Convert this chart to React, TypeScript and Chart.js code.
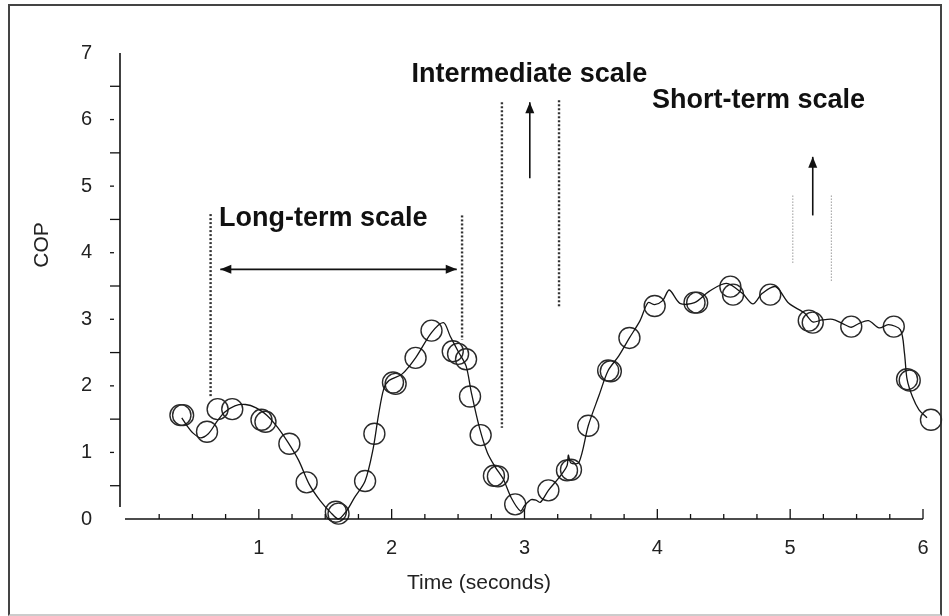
import React, { useEffect, useRef } from "react";
import { Chart, registerables } from "chart.js";

Chart.register(...registerables);

// ---- data ----
const circleX = [0.41, 0.43, 0.61, 0.69, 0.80, 1.02, 1.05, 1.23, 1.36, 1.58, 1.60, 1.80, 1.87, 2.01, 2.03, 2.18, 2.30, 2.46, 2.50, 2.56, 2.59, 2.67, 2.77, 2.80, 2.93, 3.18, 3.32, 3.35, 3.48, 3.63, 3.65, 3.79, 3.98, 4.28, 4.30, 4.55, 4.57, 4.85, 5.14, 5.17, 5.46, 5.78, 5.88, 5.90, 6.06];
const circleY = [1.56, 1.56, 1.31, 1.65, 1.65, 1.49, 1.46, 1.13, 0.55, 0.11, 0.08, 0.57, 1.28, 2.05, 2.03, 2.42, 2.83, 2.52, 2.48, 2.40, 1.84, 1.26, 0.65, 0.64, 0.22, 0.43, 0.73, 0.74, 1.40, 2.23, 2.22, 2.72, 3.20, 3.25, 3.25, 3.49, 3.37, 3.37, 2.98, 2.95, 2.89, 2.89, 2.10, 2.08, 1.49];

const lineX = [0.42, 0.46, 0.50, 0.56, 0.62, 0.68, 0.74, 0.82, 0.90, 0.98, 1.06, 1.14, 1.22, 1.30, 1.38, 1.46, 1.54, 1.60, 1.66, 1.72, 1.80, 1.86, 1.90, 1.94, 1.98, 2.08, 2.18, 2.30, 2.39, 2.44, 2.50, 2.56, 2.60, 2.66, 2.72, 2.78, 2.84, 2.90, 2.97, 3.00, 3.05, 3.09, 3.12, 3.18, 3.26, 3.32, 3.33, 3.35, 3.41, 3.48, 3.56, 3.63, 3.71, 3.79, 3.87, 3.93, 3.98, 4.04, 4.09, 4.17, 4.28, 4.39, 4.52, 4.64, 4.72, 4.79, 4.89, 4.99, 5.11, 5.17, 5.24, 5.32, 5.39, 5.46, 5.52, 5.59, 5.67, 5.74, 5.83, 5.86, 5.88, 5.92, 5.97, 6.03, 6.08];
const lineY = [1.52, 1.40, 1.30, 1.22, 1.28, 1.45, 1.60, 1.70, 1.72, 1.67, 1.56, 1.38, 1.15, 0.88, 0.52, 0.28, 0.10, 0.00, 0.12, 0.32, 0.57, 1.05, 1.55, 1.95, 2.08, 2.18, 2.42, 2.80, 2.95, 2.75, 2.52, 2.30, 1.90, 1.38, 1.00, 0.78, 0.60, 0.32, 0.12, 0.20, 0.29, 0.28, 0.25, 0.43, 0.62, 0.80, 0.96, 0.84, 0.85, 1.40, 1.85, 2.23, 2.45, 2.72, 2.98, 3.25, 3.22, 3.28, 3.44, 3.24, 3.25, 3.42, 3.54, 3.39, 3.23, 3.39, 3.49, 3.24, 3.09, 2.96, 2.99, 3.00, 2.94, 2.88, 2.94, 2.98, 2.87, 2.92, 2.84, 2.50, 2.10, 1.84, 1.64, 1.52, 1.40];

// scale-window guides (dotted verticals)
const guideX = [0.637, 2.53, 2.83, 3.26, 5.02, 5.31];
const guideTop = [4.58, 4.56, 6.26, 6.29, 4.86, 4.86];
const guideBottom = [1.82, 2.69, 1.37, 3.18, 3.84, 3.56];
const guideFaint = [false, false, false, false, true, true];

// labels of the three scales
const scaleLabels = ["Long-term scale", "Intermediate scale", "Short-term scale"];
const scaleLabelX = [0.70, 2.15, 3.96];
const scaleLabelY = [4.52, 6.68, 6.28];

// arrows: [x0, y0, x1, y1, doubleHeaded]
const arrowX0 = [0.71, 3.04, 5.17];
const arrowY0 = [3.75, 5.12, 4.56];
const arrowX1 = [2.49, 3.04, 5.17];
const arrowY1 = [3.75, 6.26, 5.44];
const arrowDouble = [true, false, false];

const xTitle = "Time (seconds)";
const yTitle = "COP";

const FONT = '"Liberation Sans", Arial, Helvetica, sans-serif';

function drawHead(ctx: CanvasRenderingContext2D, x0: number, y0: number, x1: number, y1: number) {
  const ang = Math.atan2(y1 - y0, x1 - x0);
  const L = 11, W = 4.5;
  ctx.beginPath();
  ctx.moveTo(x1, y1);
  ctx.lineTo(x1 - L * Math.cos(ang) + W * Math.sin(ang), y1 - L * Math.sin(ang) - W * Math.cos(ang));
  ctx.lineTo(x1 - L * Math.cos(ang) - W * Math.sin(ang), y1 - L * Math.sin(ang) + W * Math.cos(ang));
  ctx.closePath();
  ctx.fill();
}

const overlay = {
  id: "overlay",
  afterDraw(chart: any) {
    const { ctx, chartArea } = chart;
    const x = chart.scales.x;
    const y = chart.scales.y;
    const ax = chartArea.left;
    const ay = chartArea.bottom;
    ctx.save();
    ctx.strokeStyle = "#111";
    ctx.fillStyle = "#111";
    ctx.lineWidth = 1.6;
    ctx.setLineDash([]);
    // axis lines
    ctx.beginPath();
    ctx.moveTo(ax, chartArea.top);
    ctx.lineTo(ax, ay - 12);
    ctx.stroke();
    ctx.beginPath();
    ctx.moveTo(ax + 5, ay);
    ctx.lineTo(chartArea.right, ay);
    ctx.stroke();
    // x tick marks (inside, upward)
    ctx.lineWidth = 1.3;
    x.ticks.forEach((t: any) => {
      const v = t.value;
      if (v <= 0 || Math.abs(v * 4 - Math.round(v * 4)) > 1e-6) return;
      const px = x.getPixelForValue(v);
      const len = Number.isInteger(v) ? 10 : 5;
      ctx.beginPath();
      ctx.moveTo(px, ay);
      ctx.lineTo(px, ay - len);
      ctx.stroke();
    });
    // y tick marks
    y.ticks.forEach((t: any) => {
      const v = t.value;
      if (v <= 0 || v >= 7) return;
      const py = y.getPixelForValue(v);
      ctx.beginPath();
      if (Number.isInteger(v)) {
        ctx.moveTo(ax - 10, py);
        ctx.lineTo(ax - 6, py);
      } else {
        ctx.moveTo(ax - 10, py);
        ctx.lineTo(ax, py);
      }
      ctx.stroke();
    });
    // dotted guides
    guideX.forEach((gx, i) => {
      const px = x.getPixelForValue(gx);
      ctx.beginPath();
      if (guideFaint[i]) {
        ctx.strokeStyle = "#9a9a9a";
        ctx.lineWidth = 1;
        ctx.setLineDash([1.5, 1.5]);
      } else {
        ctx.strokeStyle = "#333";
        ctx.lineWidth = 2.4;
        ctx.setLineDash([2, 2]);
      }
      ctx.moveTo(px, y.getPixelForValue(guideTop[i]));
      ctx.lineTo(px, y.getPixelForValue(guideBottom[i]));
      ctx.stroke();
    });
    ctx.setLineDash([]);
    // arrows
    ctx.strokeStyle = "#111";
    ctx.fillStyle = "#111";
    ctx.lineWidth = 1.6;
    arrowX0.forEach((_, i) => {
      const x0 = x.getPixelForValue(arrowX0[i]);
      const y0 = y.getPixelForValue(arrowY0[i]);
      const x1 = x.getPixelForValue(arrowX1[i]);
      const y1 = y.getPixelForValue(arrowY1[i]);
      ctx.beginPath();
      ctx.moveTo(x0, y0);
      ctx.lineTo(x1, y1);
      ctx.stroke();
      drawHead(ctx, x0, y0, x1, y1);
      if (arrowDouble[i]) drawHead(ctx, x1, y1, x0, y0);
    });
    // scale labels
    ctx.font = `bold 27px ${FONT}`;
    ctx.textBaseline = "middle";
    ctx.textAlign = "left";
    ctx.fillStyle = "#111";
    scaleLabels.forEach((s, i) => {
      ctx.fillText(s, x.getPixelForValue(scaleLabelX[i]), y.getPixelForValue(scaleLabelY[i]));
    });
    // axis titles
    ctx.font = `21px ${FONT}`;
    ctx.fillStyle = "#222";
    ctx.textAlign = "center";
    ctx.fillText(xTitle, 479, 583);
    ctx.translate(42, 245);
    ctx.rotate(-Math.PI / 2);
    ctx.fillText(yTitle, 0, 0);
    ctx.restore();
  },
};

export default function App() {
  const ref = useRef<HTMLCanvasElement | null>(null);
  useEffect(() => {
    if (!ref.current) return;
    const circles = circleX.map((v, i) => ({ x: v, y: circleY[i] }));
    const line = lineX.map((v, i) => ({ x: v, y: lineY[i] }));
    const chart = new Chart(ref.current, {
      type: "scatter",
      data: {
        datasets: [
          {
            type: "line",
            data: line,
            borderColor: "#151515",
            borderWidth: 1.3,
            pointRadius: 0,
            tension: 0.3,
            fill: false,
            clip: false,
          } as any,
          {
            data: circles,
            pointRadius: 10.5,
            pointBorderWidth: 1.4,
            borderColor: "#2a2a2a",
            backgroundColor: "rgba(0,0,0,0)",
            clip: false,
          } as any,
        ],
      },
      options: {
        responsive: false,
        animation: false,
        layout: { padding: { top: 53, right: 26, left: 0, bottom: 0 } },
        plugins: { legend: { display: false }, tooltip: { enabled: false } },
        scales: {
          x: {
            type: "linear",
            min: -0.045,
            max: 6,
            grid: { display: false, drawTicks: false },
            border: { display: false },
            ticks: {
              stepSize: 0.25,
              autoSkip: false,
              maxRotation: 0,
              padding: 17,
              color: "#222",
              font: { family: FONT, size: 20 },
              callback: (v: any) => (Number.isInteger(v) && v > 0 ? String(v) : ""),
            },
            afterFit: (s: any) => {
              s.height = 97;
            },
          },
          y: {
            type: "linear",
            min: 0,
            max: 7,
            grid: { display: false, drawTicks: false },
            border: { display: false },
            ticks: {
              stepSize: 0.5,
              autoSkip: false,
              padding: 28,
              color: "#222",
              font: { family: FONT, size: 20 },
              callback: (v: any) => (Number.isInteger(v) ? String(v) : ""),
            },
            afterFit: (s: any) => {
              s.width = 120;
            },
          },
        },
      },
      plugins: [overlay],
    } as any);
    return () => chart.destroy();
  }, []);
  return (
    <div style={{ position: "fixed", left: 0, top: 0, width: 949, height: 616, background: "#fff" }}>
      <div
        style={{
          position: "absolute",
          left: 8,
          top: 4,
          width: 930,
          height: 608,
          borderLeft: "2px solid #444",
          borderTop: "2px solid #444",
          borderRight: "2px solid #444",
          borderBottom: "2px solid #ccc",
        }}
      />
      <canvas ref={ref} width={949} height={616} style={{ position: "absolute", left: 0, top: 0 }} />
    </div>
  );
}
